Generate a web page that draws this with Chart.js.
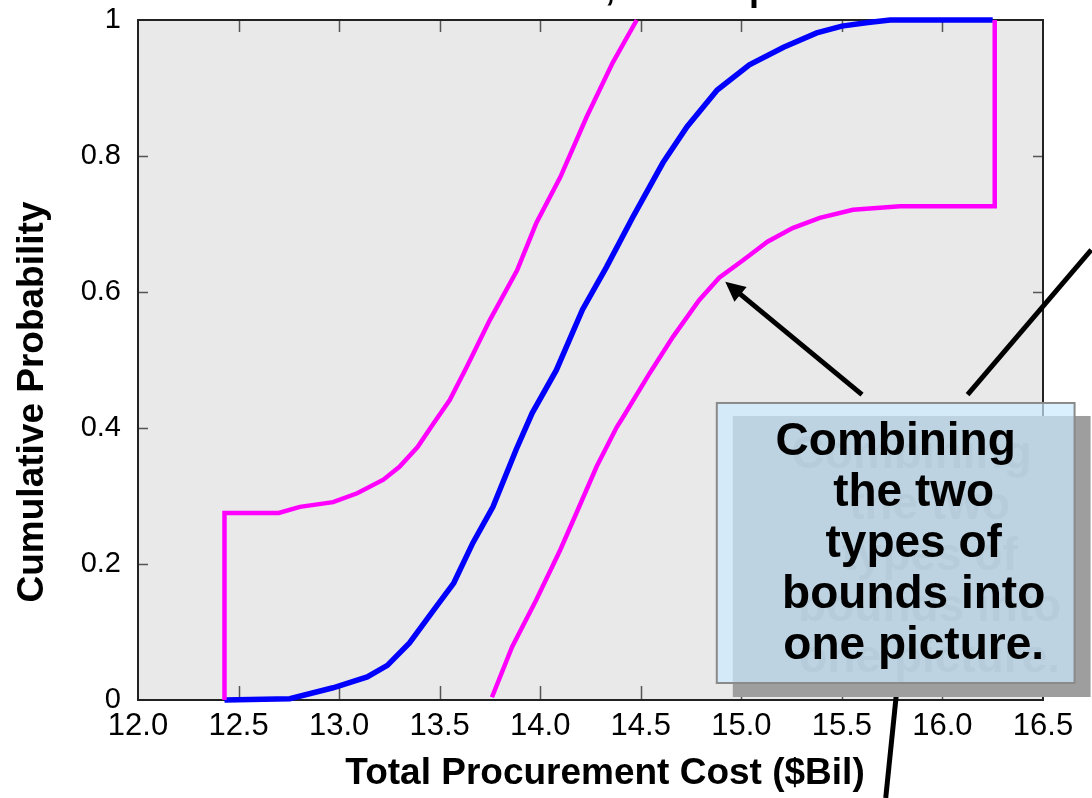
<!DOCTYPE html>
<html>
<head>
<meta charset="utf-8">
<script src="https://cdn.jsdelivr.net/npm/chart.js@4.4.1/dist/chart.umd.min.js"></script>
<style>
  html, body { margin: 0; padding: 0; background: #fff; }
  #wrap { width: 1092px; height: 798px; }
</style>
</head>
<body>
<div id="wrap"><canvas id="cdf" width="1092" height="798"></canvas></div>
<script>
// central estimate of the CDF
const meanX = [12.43, 12.755, 12.97, 13.14, 13.24, 13.35, 13.47, 13.57, 13.665, 13.765, 13.88, 13.96, 14.08, 14.21, 14.33, 14.46, 14.61, 14.73, 14.88, 15.04, 15.21, 15.375, 15.50, 15.62, 15.74, 16.25];
const meanY = [0, 0.002, 0.018, 0.034, 0.051, 0.084, 0.132, 0.172, 0.231, 0.284, 0.368, 0.422, 0.485, 0.574, 0.637, 0.710, 0.790, 0.843, 0.897, 0.934, 0.960, 0.981, 0.991, 0.996, 1, 1];

// left / upper bound
const upperX = [12.43, 12.43, 12.70, 12.805, 12.97, 13.09, 13.22, 13.30, 13.39, 13.47, 13.55, 13.635, 13.75, 13.885, 13.98, 14.10, 14.23, 14.36, 14.48];
const upperY = [0, 0.275, 0.275, 0.284, 0.291, 0.304, 0.324, 0.343, 0.372, 0.407, 0.441, 0.49, 0.559, 0.632, 0.701, 0.769, 0.857, 0.937, 1];

// right / lower bound
const lowerX = [13.76, 13.86, 13.98, 14.10, 14.18, 14.28, 14.38, 14.41, 14.545, 14.66, 14.79, 14.89, 15.01, 15.13, 15.255, 15.39, 15.555, 15.79, 16.26, 16.26];
const lowerY = [0.004, 0.078, 0.147, 0.221, 0.275, 0.343, 0.401, 0.415, 0.481, 0.534, 0.588, 0.621, 0.647, 0.674, 0.694, 0.709, 0.721, 0.726, 0.726, 1];

const xTicks = [12, 12.5, 13, 13.5, 14, 14.5, 15, 15.5, 16, 16.5];
const yTicks = [0, 0.2, 0.4, 0.6, 0.8, 1];

const xTitle = 'Total Procurement Cost ($Bil)';
const yTitle = 'Cumulative Probability';
const calloutLines = ["Combining", "the two", "types of", "bounds into", "one picture."];

const FONT = '"Liberation Sans", Arial, Helvetica, sans-serif';

function pts(xs, ys) {
  return xs.map((x, i) => ({ x: x, y: ys[i] }));
}

// arrows, in data units: [fromX, fromY, toX, toY, head]
const arrows = [
  [15.60, 0.449, 14.92, 0.615, true],
  [16.125, 0.449, 16.74, 0.662, false],
  [15.777, 0.026, 15.718, -0.144, false]
];

const framePlugin = {
  id: 'frame',
  beforeDraw(chart) {
    const { ctx, chartArea: a } = chart;
    ctx.save();
    ctx.fillStyle = '#ffffff';
    ctx.fillRect(0, 0, chart.width, chart.height);
    ctx.fillStyle = '#e9e9e9';
    ctx.fillRect(a.left, a.top, a.right - a.left, a.bottom - a.top);
    ctx.restore();
  },
  beforeDatasetsDraw(chart) {
    const { ctx, chartArea: a, scales } = chart;
    ctx.save();
    // inward tick marks on every side
    ctx.strokeStyle = '#555';
    ctx.lineWidth = 1.5;
    ctx.beginPath();
    xTicks.slice(1, -1).forEach(v => {
      const px = Math.round(scales.x.getPixelForValue(v)) + 0.5;
      ctx.moveTo(px, a.bottom); ctx.lineTo(px, a.bottom - 14);
      ctx.moveTo(px, a.top); ctx.lineTo(px, a.top + 12);
    });
    yTicks.slice(1, -1).forEach(v => {
      const py = Math.round(scales.y.getPixelForValue(v)) + 0.5;
      ctx.moveTo(a.left, py); ctx.lineTo(a.left + 10, py);
      ctx.moveTo(a.right, py); ctx.lineTo(a.right - 10, py);
    });
    ctx.stroke();
    ctx.strokeStyle = '#222';
    ctx.lineWidth = 2;
    ctx.strokeRect(a.left, a.top, a.right - a.left, a.bottom - a.top);
    ctx.restore();
  },
  afterDraw(chart) {
    const { ctx, scales } = chart;
    const X = v => scales.x.getPixelForValue(v);
    const Y = v => scales.y.getPixelForValue(v);
    ctx.save();

    // cut-off title at the very top
    ctx.font = 'bold 36px ' + FONT;
    ctx.fillStyle = '#000';
    ctx.textBaseline = 'alphabetic';
    const head = 'Total Procurement Cost';
    const title = head + ', Bound p-box';
    ctx.fillText(title, 605 - ctx.measureText(head).width, 0);

    // axis titles
    ctx.font = 'bold 37px ' + FONT;
    ctx.textAlign = 'center';
    ctx.fillText(xTitle, 605, 784);
    ctx.save();
    ctx.translate(43, 402);
    ctx.rotate(-Math.PI / 2);
    ctx.fillText(yTitle, 0, 0);
    ctx.restore();

    // arrows
    ctx.strokeStyle = '#000';
    ctx.fillStyle = '#000';
    ctx.lineWidth = 5;
    arrows.forEach(([x0, y0, x1, y1, hasHead]) => {
      const ax = X(x0), ay = Y(y0), bx = X(x1), by = Y(y1);
      const ang = Math.atan2(by - ay, bx - ax);
      const back = hasHead ? 12 : 0;
      ctx.beginPath();
      ctx.moveTo(ax, ay);
      ctx.lineTo(bx - back * Math.cos(ang), by - back * Math.sin(ang));
      ctx.stroke();
      if (hasHead) {
        const L = 22, W = 0.45;
        ctx.beginPath();
        ctx.moveTo(bx, by);
        ctx.lineTo(bx - L * Math.cos(ang - W), by - L * Math.sin(ang - W));
        ctx.lineTo(bx - L * Math.cos(ang + W), by - L * Math.sin(ang + W));
        ctx.closePath();
        ctx.fill();
      }
    });

    // callout box with drop shadow
    const bx0 = X(14.878), bx1 = X(16.657), by0 = Y(0.4368), by1 = Y(0.025);
    const sx = 16, sy = 13;
    const cx = (bx0 + bx1) / 2 + 18;
    const base0 = by0 + 52, step = 51;
    ctx.fillStyle = '#9e9e9e';
    ctx.fillRect(bx0 + sx, by0 + sy, bx1 - bx0, by1 - by0 + 1);
    ctx.font = 'bold 46px ' + FONT;
    ctx.textAlign = 'center';
    ctx.fillStyle = '#878787';
    calloutLines.forEach((t, i) => {
      ctx.fillText(t, cx + sx + (i === 0 ? -18 : 0), base0 + sy + step * i);
    });
    ctx.fillStyle = 'rgba(202,234,254,0.7)';
    ctx.fillRect(bx0, by0, bx1 - bx0, by1 - by0);
    ctx.strokeStyle = '#8a8a8a';
    ctx.lineWidth = 2;
    ctx.strokeRect(bx0, by0, bx1 - bx0, by1 - by0);
    ctx.fillStyle = '#000';
    calloutLines.forEach((t, i) => {
      ctx.fillText(t, cx + (i === 0 ? -18 : 0), base0 + step * i);
    });
    ctx.restore();
  }
};

new Chart(document.getElementById('cdf'), {
  type: 'scatter',
  data: {
    datasets: [
      {
        label: 'Upper bound',
        data: pts(upperX, upperY),
        showLine: true,
        borderColor: '#ff00ff',
        borderWidth: 4.5,
        pointRadius: 0,
        tension: 0,
        clip: 6
      },
      {
        label: 'Lower bound',
        data: pts(lowerX, lowerY),
        showLine: true,
        borderColor: '#ff00ff',
        borderWidth: 4.5,
        pointRadius: 0,
        tension: 0,
        clip: 6
      },
      {
        label: 'Estimate',
        data: pts(meanX, meanY),
        showLine: true,
        borderColor: '#0000ff',
        borderWidth: 5.5,
        pointRadius: 0,
        tension: 0,
        clip: 6
      }
    ]
  },
  options: {
    responsive: false,
    animation: false,
    devicePixelRatio: 1,
    layout: { padding: { top: 20, right: 49, left: 0, bottom: 0 } },
    plugins: {
      legend: { display: false },
      tooltip: { enabled: false }
    },
    scales: {
      x: {
        type: 'linear',
        min: 12,
        max: 16.5,
        afterBuildTicks: s => { s.ticks = xTicks.map(v => ({ value: v })); },
        afterFit: s => { s.height = 98; },
        ticks: {
          callback: v => v.toFixed(1),
          color: '#000',
          font: { family: FONT, size: 31 },
          padding: 8,
          maxRotation: 0,
          autoSkip: false
        },
        grid: { display: false, drawTicks: false },
        border: { display: false }
      },
      y: {
        min: 0,
        max: 1,
        afterBuildTicks: s => { s.ticks = yTicks.map(v => ({ value: v })); },
        afterFit: s => { s.width = 138; s.paddingTop = 0; s.paddingBottom = 0; },
        ticks: {
          callback: v => (v === 0 || v === 1) ? String(v) : v.toFixed(1),
          color: '#000',
          font: { family: FONT, size: 29 },
          padding: 17
        },
        grid: { display: false, drawTicks: false },
        border: { display: false }
      }
    }
  },
  plugins: [framePlugin]
});
</script>
</body>
</html>
